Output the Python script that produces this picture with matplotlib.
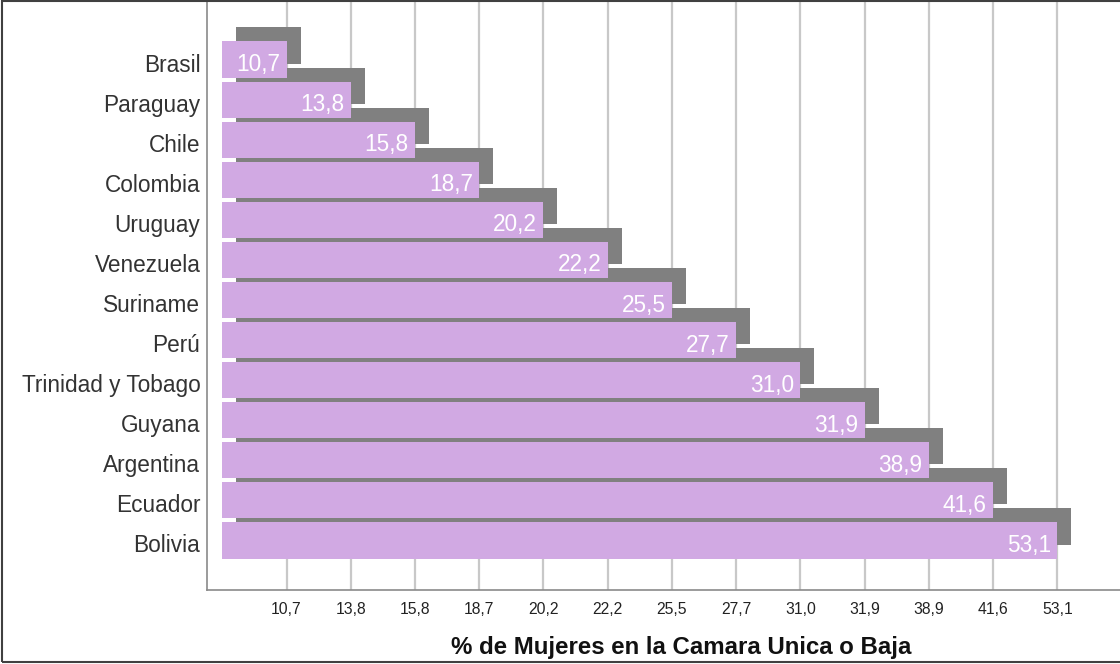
import numpy as np
import matplotlib
matplotlib.use('Agg')
import matplotlib.pyplot as plt
from matplotlib.transforms import offset_copy, ScaledTranslation
from matplotlib.patches import Rectangle

# Datos: % de mujeres en la cámara única o baja
paises = ["Brasil", "Paraguay", "Chile", "Colombia", "Uruguay", "Venezuela",
          "Suriname", "Perú", "Trinidad y Tobago", "Guyana", "Argentina",
          "Ecuador", "Bolivia"]
porcentajes = [10.7, 13.8, 15.8, 18.7, 20.2, 22.2, 25.5, 27.7, 31.0, 31.9,
               38.9, 41.6, 53.1]

plt.rcParams['font.family'] = ['Liberation Sans', 'DejaVu Sans']

fig = plt.figure(figsize=(11.2, 6.64), dpi=100)
ax = fig.add_axes([207.3 / 1120, 74 / 664, 1 - 207.3 / 1120, 590 / 664])

# 1. Eje x ordinal (estilo SPSS): cada valor ocupa una posición equidistante
posiciones = np.arange(1, len(porcentajes) + 1)
filas = np.arange(len(paises))
etiquetas = [f"{v:.1f}".replace('.', ',') for v in porcentajes]

# 2. Barras con sombra desplazada (efecto 3D)
sombra = offset_copy(ax.transData, fig=fig, x=14, y=14, units='dots')
ax.barh(filas, posiciones, height=0.9, color='#808080', transform=sombra, zorder=2)
ax.barh(filas, posiciones, height=0.9, color='#d1a9e3', zorder=3)

# Etiquetas de valor dentro de la barra
for y, x, txt in zip(filas, posiciones, etiquetas):
    ax.annotate(txt, (x, y), xytext=(-4.5, -8.3), textcoords='offset points',
                ha='right', va='baseline', color='white', fontsize=16.3, zorder=4)

# 3. Ejes
ax.set_xticks(posiciones, etiquetas)
ax.set_yticks(filas, paises)
ax.set_xlim(-0.2335, 13.976)
ax.set_ylim(13.235, -1.485)
ax.tick_params(axis='x', length=0, pad=8.5, labelsize=11.3, labelcolor='#222222')
ax.tick_params(axis='y', length=0, pad=5, labelsize=16.3, labelcolor='#333333')
ax.set_axisbelow(True)
ax.grid(axis='x', color='#c8c8c8', linewidth=1.6)

# bajar un poco los nombres de los países
bajar = ScaledTranslation(0, -3 / 100, fig.dpi_scale_trans)
for lab in ax.get_yticklabels():
    lab.set_transform(lab.get_transform() + bajar)

for lado in ['top', 'right']:
    ax.spines[lado].set_visible(False)
for lado in ['left', 'bottom']:
    ax.spines[lado].set_color('#8a8a8a')
    ax.spines[lado].set_linewidth(1.2)

ax.set_xlabel('% de Mujeres en la Camara Unica o Baja', fontsize=17.3,
              fontweight='bold', color='#111111')
ax.xaxis.set_label_coords((681 - 207.3) / 912.7, (590 - 636) / 590)

# Marco alrededor de la figura
fig.patches.append(Rectangle((1.5 / 1120, 2 / 664), 1.1, 1 - 3 / 664,
                             transform=fig.transFigure, fill=False,
                             edgecolor='#404040', linewidth=1.5))

fig.savefig('out.png', dpi=100)
